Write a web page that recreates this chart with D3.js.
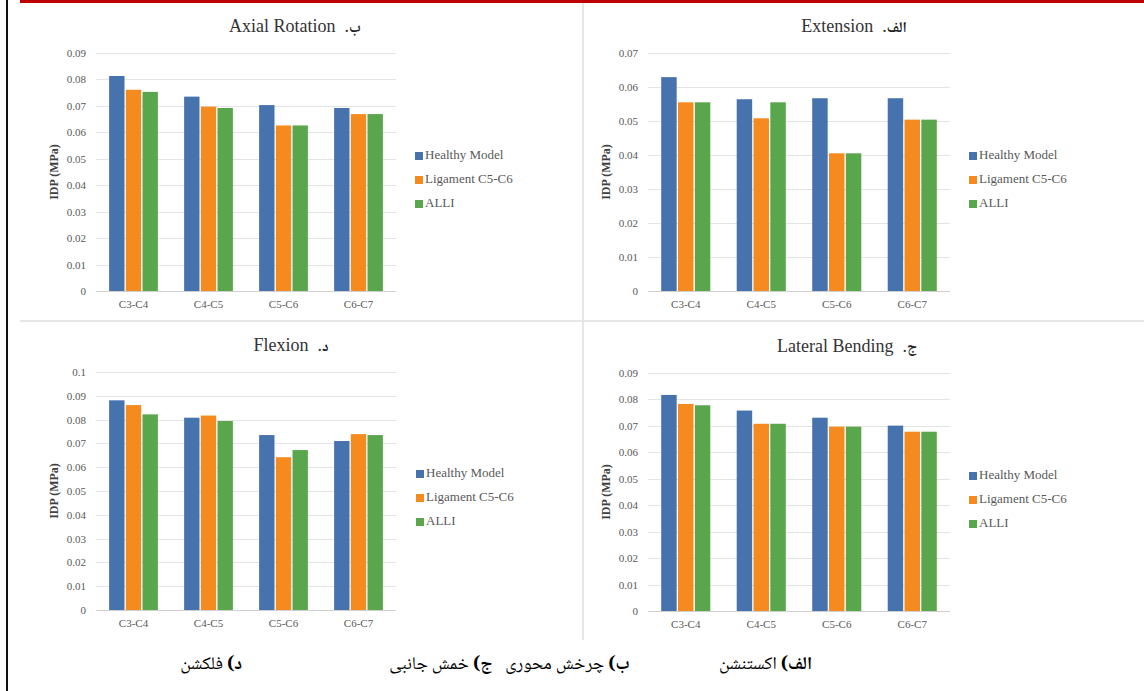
<!DOCTYPE html>
<html><head><meta charset="utf-8">
<script src="https://cdn.jsdelivr.net/npm/d3@7"></script>
<style>
body{margin:0;background:#fff}svg{display:block}
.serif{font-family:"Liberation Serif","Times New Roman",Times,serif}
.arab{font-family:"Noto Naskh Arabic","Noto Sans Arabic","DejaVu Sans",sans-serif}
</style>
</head><body>
<svg id="chart" width="1144" height="691"></svg>
<script>
const categories = ["C3-C4","C4-C5","C5-C6","C6-C7"];
const seriesNames = ["Healthy Model","Ligament C5-C6","ALLI"];
const seriesColors = ["#4672ad","#f58b1f","#5aa64c"];

const extensionHealthy  = [0.0629,0.0564,0.0567,0.0567];
const extensionLigament = [0.0555,0.0508,0.0405,0.0504];
const extensionALLI     = [0.0555,0.0555,0.0405,0.0504];

const axialHealthy  = [0.0813,0.0735,0.0703,0.0692];
const axialLigament = [0.0761,0.0697,0.0626,0.0669];
const axialALLI     = [0.0753,0.0692,0.0626,0.0669];

const lateralHealthy  = [0.0817,0.0758,0.0731,0.0701];
const lateralLigament = [0.0783,0.0708,0.0697,0.0678];
const lateralALLI     = [0.0778,0.0708,0.0697,0.0678];

const flexionHealthy  = [0.0881,0.0808,0.0735,0.0710];
const flexionLigament = [0.0861,0.0817,0.0642,0.0739];
const flexionALLI     = [0.0822,0.0794,0.0672,0.0735];

const extensionTicks = [0,0.01,0.02,0.03,0.04,0.05,0.06,0.07];
const nineTicks = [0,0.01,0.02,0.03,0.04,0.05,0.06,0.07,0.08,0.09];
const tenTicks = [0,0.01,0.02,0.03,0.04,0.05,0.06,0.07,0.08,0.09,0.1];

const titlesEn = ["Extension","Axial Rotation","Lateral Bending","Flexion"];
const titlesFa = ["الف","ب","ج","د"];
const yAxisLabel = "IDP (MPa)";

const captionLetters = ["الف)","ب)","ج)","د)"];
const captionWords = ["اکستنشن","چرخش محوری","خمش جانبی","فلکشن"];

const svg = d3.select("#chart");

// frame
svg.append("rect").attr("x",20).attr("y",0).attr("width",1124).attr("height",3).attr("fill","#c00000");
svg.append("rect").attr("x",6).attr("y",0).attr("width",2).attr("height",691).attr("fill","#111");
svg.append("rect").attr("x",582).attr("y",3).attr("width",2).attr("height",637).attr("fill","#e6e6e6");
svg.append("rect").attr("x",20).attr("y",320).attr("width",1124).attr("height",2).attr("fill","#e6e6e6");

const panels = [
  {title:0, data:[extensionHealthy,extensionLigament,extensionALLI], ticks:extensionTicks, max:0.07,
   x0:648, x1:950, yTop:53, yBot:291, tx:854, ty:32, ylx:607, lx:969, ly:156},
  {title:1, data:[axialHealthy,axialLigament,axialALLI], ticks:nineTicks, max:0.09,
   x0:96, x1:396, yTop:53, yBot:291, tx:295, ty:32, ylx:55, lx:415, ly:156},
  {title:2, data:[lateralHealthy,lateralLigament,lateralALLI], ticks:nineTicks, max:0.09,
   x0:648, x1:950, yTop:373, yBot:611, tx:847, ty:352, ylx:607, lx:969, ly:476},
  {title:3, data:[flexionHealthy,flexionLigament,flexionALLI], ticks:tenTicks, max:0.1,
   x0:96, x1:396, yTop:372, yBot:610, tx:291, ty:351, ylx:55, lx:416, ly:474}
];

panels.forEach(p => {
  const g = svg.append("g");
  const y = d3.scaleLinear().domain([0,p.max]).range([p.yBot,p.yTop]);
  const xb = d3.scaleBand().domain(categories).range([p.x0,p.x1]).paddingInner(0.35).paddingOuter(0.175);
  const xs = d3.scaleBand().domain(d3.range(seriesNames.length)).range([0,xb.bandwidth()]).paddingInner(0.08);

  g.selectAll("line.grid").data(p.ticks).join("line")
    .attr("x1",p.x0).attr("x2",p.x1)
    .attr("y1",d=>Math.round(y(d))+0.5).attr("y2",d=>Math.round(y(d))+0.5)
    .attr("stroke",d=>d===0?"#d0d0d0":"#e4e4e4").attr("stroke-width",1);

  const yAxis = d3.axisLeft(y).tickValues(p.ticks).tickSize(0).tickPadding(0)
    .tickFormat(d=>d===0?"0":String(+d.toFixed(2)));
  const ya = g.append("g").attr("transform",`translate(${p.x0-10},0)`).call(yAxis);
  ya.attr("font-family",null).attr("font-size",null);
  ya.select(".domain").remove();
  ya.selectAll("text").attr("class","serif").style("font-size","11px").attr("fill","#595959");

  const xAxis = d3.axisBottom(xb).tickSize(0).tickPadding(0);
  const xa = g.append("g").attr("transform",`translate(0,${p.yBot+9})`).call(xAxis);
  xa.attr("font-family",null).attr("font-size",null);
  xa.select(".domain").remove();
  xa.selectAll("text").attr("class","serif").style("font-size","11px").attr("fill","#595959");

  categories.forEach((c,ci) => {
    p.data.forEach((arr,si) => {
      g.append("rect")
        .attr("x",xb(c)+xs(si)).attr("width",xs.bandwidth())
        .attr("y",y(arr[ci])).attr("height",y(0)-y(arr[ci]))
        .attr("fill",seriesColors[si]);
    });
  });

  const t = g.append("text").attr("x",p.tx).attr("y",p.ty).attr("text-anchor","middle")
    .attr("class","serif").style("font-size","18px").attr("fill","#333")
    .style("white-space","pre");
  t.append("tspan").text(titlesEn[p.title] + "  .");
  t.append("tspan").attr("class","arab").style("font-weight","bold").style("font-size","15px").attr("fill","#222").text(titlesFa[p.title]);

  g.append("text").attr("transform",`translate(${p.ylx},${(p.yTop+p.yBot)/2}) rotate(-90)`)
    .attr("text-anchor","middle").attr("dominant-baseline","middle")
    .attr("class","serif").style("font-size","12px").style("font-weight","bold").attr("fill","#404040")
    .text(yAxisLabel);

  seriesNames.forEach((s,si) => {
    g.append("rect").attr("x",p.lx).attr("y",p.ly+si*24-4).attr("width",8).attr("height",8).attr("fill",seriesColors[si]);
    g.append("text").attr("x",p.lx+10).attr("y",p.ly+si*24).attr("dominant-baseline","middle")
      .attr("class","serif").style("font-size","13px").attr("fill","#595959").text(s);
  });
});

const capRight = [812,630,492,242];
captionLetters.forEach((l,i) => {
  const t = svg.append("text").attr("x",capRight[i]).attr("y",669)
    .attr("direction","rtl").attr("text-anchor","start")
    .attr("class","arab").style("font-size","18px").attr("fill","#000");
  t.append("tspan").style("font-weight","bold").text(l);
  t.append("tspan").text(" " + captionWords[i]);
});
</script>
</body></html>
